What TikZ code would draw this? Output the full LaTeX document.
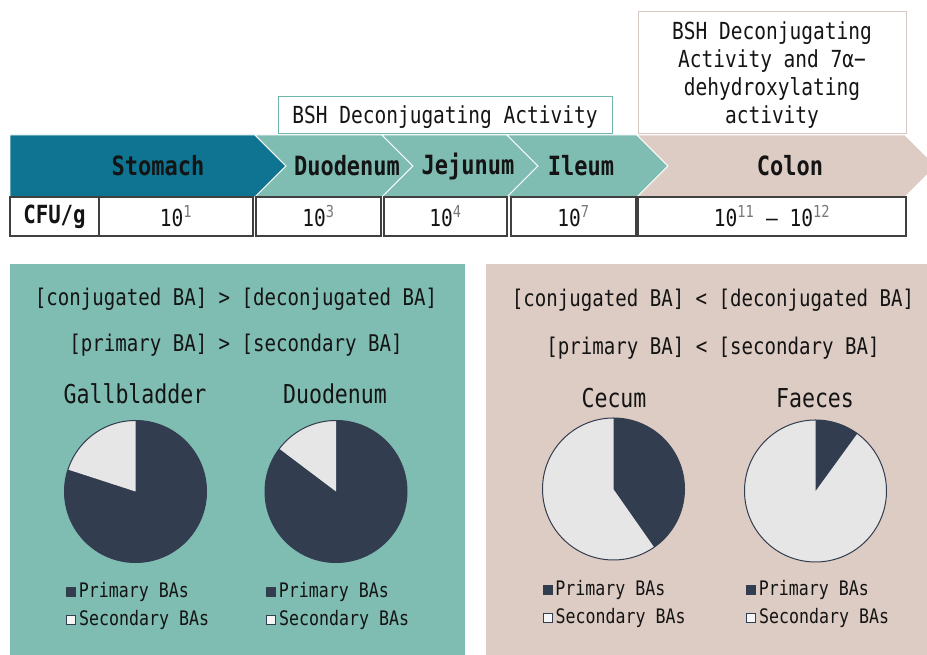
\documentclass[tikz,border=0pt]{standalone}
\usepackage{fontspec}
\usepackage{xcolor}
\usetikzlibrary{positioning}

\newfontfamily\gothic[FakeStretch=0.83]{DejaVu Sans Mono}

\definecolor{stomachblue}{RGB}{14,116,145}
\definecolor{gutteal}{RGB}{127,188,178}
\definecolor{colonpink}{RGB}{221,204,196}
\definecolor{bshedge}{RGB}{112,182,168}
\definecolor{colonedge}{RGB}{214,200,194}
\definecolor{cellgray}{RGB}{64,64,64}
\definecolor{supgray}{RGB}{120,120,120}
\definecolor{piedark}{RGB}{51,61,80}
\definecolor{pielight}{RGB}{231,230,230}
\definecolor{ink}{RGB}{20,20,20}

\tikzset{
  seg/.style={draw=white, line width=0.8pt},
  gutlbl/.style={font=\gothic\bfseries\fontsize{26.5}{28}\selectfont, text=ink},
  cell/.style={draw=cellgray, fill=white, line width=1.2pt, minimum height=39pt, inner sep=0pt,
    font=\gothic\fontsize{23.5}{26}\selectfont, text=ink},
  actbox/.style={fill=white, line width=1pt, inner sep=0pt, align=center,
    font=\gothic\fontsize{23.5}{28}\selectfont, text=ink},
  ratio/.style={font=\gothic\fontsize{23}{26}\selectfont, text=ink},
  pietitle/.style={font=\gothic\fontsize{26}{28}\selectfont, text=ink},
  keydark/.style={fill=piedark, minimum size=10pt, inner sep=0pt},
  keylight/.style={fill=pielight!40!white, draw=piedark, line width=0.9pt, minimum size=9pt, inner sep=0pt},
  keytxt/.style={font=\gothic\fontsize{20}{22}\selectfont, text=ink, inner sep=0pt, anchor=west},
}

\newcommand{\tenpow}[1]{10\textsuperscript{\color{supgray}#1}}

\begin{document}
\begin{tikzpicture}[x=1pt, y=1pt]
\useasboundingbox (0,0) rectangle (927,655);
\clip (0,0) rectangle (927,655);

% gut segments
\filldraw[seg, fill=stomachblue] (10,520) -- (255,520) -- (286,489) -- (255,458) -- (10,458) -- cycle;
\foreach \l/\r in {255/382, 382/507, 507/637}
  \filldraw[seg, fill=gutteal] (\l,520) -- (\r,520) -- ({\r+31},489) -- (\r,458) -- (\l,458) -- ({\l+31},489) -- cycle;
\filldraw[seg, fill=colonpink] (637,520) -- (905,520) -- (936,489) -- (905,458) -- (637,458) -- (668,489) -- cycle;

\node[gutlbl] (stom) at (158,489) {Stomach};
\node[gutlbl] (duod) at (347,489) {Duodenum};
\node[gutlbl] (jeju) at (468,489) {Jejunum};
\node[gutlbl] (ileum) at (581,489) {Ileum};
\node[gutlbl] (colon) at (790,489) {Colon};

% activity boxes
\node[actbox, draw=bshedge, minimum width=334pt, minimum height=37pt] (bsh) at (445,539.5) {\rule{0pt}{21pt}BSH Deconjugating Activity};
\node[actbox, draw=colonedge, minimum width=268pt, minimum height=122pt] (dehyd) at (772,582)
  {\rule{0pt}{22pt}BSH Deconjugating\\Activity and 7α−\\dehydroxylating\\activity};

% CFU/g row
\node[cell, minimum width=89pt, font=\gothic\bfseries\fontsize{25}{26}\selectfont] (cfu) at (54.5,438.5) {CFU/g};
\node[cell, minimum width=154pt] (cfu1) at (176,438.5) {\tenpow{1}};
\node[cell, minimum width=125pt] (cfu3) at (318.5,438.5) {\tenpow{3}};
\node[cell, minimum width=123pt] (cfu4) at (445.5,438.5) {\tenpow{4}};
\node[cell, minimum width=125pt] (cfu7) at (573.5,438.5) {\tenpow{7}};
\node[cell, minimum width=268pt] (cfu11) at (772,438.5) {\tenpow{11} – \tenpow{12}};

% panels
\fill[gutteal] (10,0) rectangle (465,391);
\fill[colonpink] (486,0) rectangle (927,391);

\node[ratio] (lconj) at (236,356) {[conjugated BA] > [deconjugated BA]};
\node[ratio] (lprim) at (236,310) {[primary BA] > [secondary BA]};
\node[ratio] (rconj) at (713,355) {[conjugated BA] < [deconjugated BA]};
\node[ratio] (rprim) at (713,307) {[primary BA] < [secondary BA]};

\node[pietitle] (gbt) at (135,261) {Gallbladder};
\node[pietitle] (dut) at (335,261) {Duodenum};
\node[pietitle] (cet) at (614,257) {Cecum};
\node[pietitle] (fat) at (815,257) {Faeces};

% pies
\coordinate (gb) at (135.5,163.5);
\coordinate (du) at (336,163.5);
\coordinate (ce) at (613.5,166);
\coordinate (fa) at (815.5,164);

\fill[piedark] (gb) circle (71pt);
\fill[pielight] (gb) -- ++(90:71) arc[start angle=90, end angle=162, radius=71pt] -- cycle;
\fill[piedark] (du) circle (71pt);
\fill[pielight] (du) -- ++(90:71) arc[start angle=90, end angle=143, radius=71pt] -- cycle;
\fill[pielight] (ce) circle (71pt);
\fill[piedark] (ce) -- ++(90:71) arc[start angle=90, end angle=-55, radius=71pt] -- cycle;
\fill[pielight] (fa) circle (71pt);
\fill[piedark] (fa) -- ++(90:71) arc[start angle=90, end angle=54, radius=71pt] -- cycle;
\foreach \c in {gb, du, ce, fa}
  \draw[piedark, line width=1pt] (\c) circle (71pt);

% legends
\foreach \x/\y/\n in {71/63/gb, 271/63/du, 547.5/65/ce, 751/65/fa} {
  \node[keydark] (\n-p) at (\x,\y) {};
  \node[keytxt, right=2.5pt of \n-p] (\n-pt) {Primary BAs};
  \node[keylight] (\n-s) at (\x,\y-28) {};
  \node[keytxt, right=3pt of \n-s] (\n-st) {Secondary BAs};
}
\end{tikzpicture}
\end{document}
